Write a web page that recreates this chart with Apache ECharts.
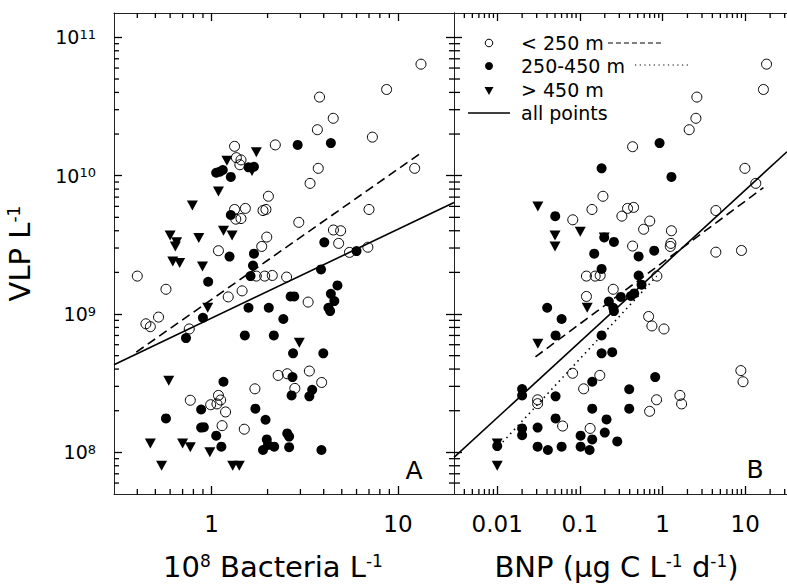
<!DOCTYPE html>
<html><head><meta charset="utf-8">
<script src="https://cdn.jsdelivr.net/npm/echarts@6/dist/echarts.min.js"></script>
<style>html,body{margin:0;padding:0;background:#fff}#c{width:787px;height:586px}</style>
</head><body><div id="c"></div><script>
// ---------- tick values ----------
const yMajorTicks = [1e8, 1e9, 1e10, 1e11];
const yMinorTicks = [6e7,7e7,8e7,9e7, 2e8,3e8,4e8,5e8,6e8,7e8,8e8,9e8, 2e9,3e9,4e9,5e9,6e9,7e9,8e9,9e9, 2e10,3e10,4e10,5e10,6e10,7e10,8e10,9e10];
const xMajorTicksA = [1, 10];
const xMinorTicksA = [0.4,0.5,0.6,0.7,0.8,0.9, 2,3,4,5,6,7,8,9];
const xMajorTicksB = [0.01, 0.1, 1, 10];
const xMinorTicksB = [0.004,0.005,0.006,0.007,0.008,0.009, 0.02,0.03,0.04,0.05,0.06,0.07,0.08,0.09, 0.2,0.3,0.4,0.5,0.6,0.7,0.8,0.9, 2,3,4,5,6,7,8,9, 20,30];
const xRangeA = [0.3, 20];
const xRangeB = [0.003, 32];
const yRange = [5e7, 1.5e11];

// ---------- Panel A: bacteria (1e8 cells/L) vs VLP (per L) ----------
const A_shallow = [
 [13.3,6.4e10],[8.7,4.2e10],[3.8,3.7e10],[4.5,2.6e10],[3.7,2.15e10],[7.3,1.9e10],[2.2,1.67e10],
 [1.33,1.63e10],[1.36,1.35e10],[1.44,1.3e10],[1.42,1.2e10],[12.3,1.13e10],[3.74,1.13e10],[3.38,8.8e9],
 [2.02,7.1e9],[7.0,5.7e9],[1.33,5.7e9],[1.52,5.8e9],[1.89,5.6e9],[1.96,5.7e9],[1.35,4.85e9],[1.44,4.9e9],
 [2.94,4.6e9],[4.51,4.05e9],[4.93,4.0e9],[1.98,3.6e9],[4.81,3.24e9],[1.86,3.08e9],[1.09,2.87e9],
 [6.9,3.04e9],[5.5,2.79e9],[0.40,1.88e9],[1.74,1.88e9],[1.93,1.88e9],[2.12,1.9e9],[2.53,1.85e9],
 [0.57,1.51e9],[1.46,1.47e9],[1.23,1.33e9],[3.3,1.22e9],[0.445,8.5e8],[0.47,8.1e8],[0.52,9.5e8],
 [0.76,7.8e8],[2.28,3.6e8],[2.55,3.7e8],[2.8,2.9e8],[1.71,2.88e8],[0.77,2.38e8],[1.09,2.58e8],
 [0.99,2.21e8],[1.07,2.24e8],[1.12,2.39e8],[1.19,1.96e8],[1.14,1.56e8],[1.50,1.47e8],[3.35,3.87e8],[3.9,3.2e8]
];
const A_mid = [
 [2.9,1.67e10],[4.37,1.72e10],[1.06,1.05e10],[1.11,1.07e10],[1.15,1.1e10],[1.27,9.8e9],[1.58,1.15e10],
 [1.69,1.16e10],[1.27,5.2e9],[1.25,2.6e9],[1.69,2.73e9],[1.67,2.24e9],[1.62,1.88e9],[0.96,1.71e9],
 [4.03,3.3e9],[3.87,2.1e9],[6.0,2.85e9],[4.74,1.61e9],[4.37,1.4e9],[4.56,1.24e9],[4.24,1.11e9],
 [4.33,1.05e9],[1.58,1.11e9],[2.03,1.11e9],[2.43,9.2e8],[2.66,1.34e9],[2.78,1.34e9],[0.90,9.4e8],
 [0.73,6.7e8],[1.51,7.0e8],[2.16,7.0e8],[2.74,5.2e8],[3.98,5.2e8],[2.72,3.5e8],[2.69,2.58e8],
 [3.47,2.83e8],[3.35,2.54e8],[2.55,1.37e8],[2.61,1.3e8],[2.61,1.09e8],[3.89,1.04e8],[1.16,3.24e8],
 [0.88,2.04e8],[1.72,2.07e8],[0.57,1.76e8],[1.95,1.72e8],[0.88,1.51e8],[0.91,1.52e8],[1.06,1.32e8],
 [1.13,1.1e8],[1.98,1.24e8],[1.89,1.04e8],[2.01,1.13e8],[2.17,1.1e8]
];
const A_deep = [
 [1.74,1.48e10],[1.21,1.28e10],[1.65,1.08e10],[1.09,7.7e9],[0.79,6.1e9],[0.60,3.7e9],[0.65,3.3e9],
 [0.64,3.08e9],[0.855,3.55e9],[1.16,4.0e9],[1.29,3.7e9],[0.62,2.4e9],[0.675,2.34e9],[0.895,2.21e9],
 [0.955,1.11e9],[0.59,3.3e8],[2.96,6.2e8],[0.47,1.16e8],[0.70,1.16e8],[0.77,1.09e8],[0.98,1.0e8],
 [0.54,8.0e7],[1.30,8.0e7],[1.41,8.0e7]
];
const A_fitShallow = [[0.395,5.3e8],[13.5,1.48e10]];
const A_fitAll = [[0.3,4.3e8],[20,6.4e9]];

// ---------- Panel B: BNP vs VLP ----------
const B_shallow = [
 [18.1,6.4e10],[16.6,4.2e10],[2.6,3.7e10],[2.53,2.6e10],[2.1,2.15e10],[0.434,1.62e10],[9.9,1.13e10],
 [13.4,8.8e9],[0.19,7.1e9],[4.41,5.6e9],[0.14,5.7e9],[0.377,5.8e9],[0.446,5.9e9],[0.322,5.1e9],
 [0.70,4.7e9],[0.59,4.1e9],[0.082,4.8e9],[1.28,4.0e9],[1.26,3.24e9],[1.24,3.08e9],[0.434,3.1e9],
 [4.41,2.8e9],[9.0,2.88e9],[0.12,1.88e9],[0.153,1.88e9],[0.176,1.9e9],[0.853,1.88e9],[0.253,1.51e9],
 [0.12,1.34e9],[0.678,9.6e8],[0.743,8.2e8],[1.04,7.8e8],[8.85,3.9e8],[9.4,3.24e8],[1.62,2.58e8],
 [1.7,2.24e8],[0.846,2.4e8],[0.697,1.98e8],[0.0816,3.73e8],[0.174,3.6e8],[0.111,2.88e8],
 [0.0308,2.4e8],[0.0308,2.25e8],[0.0618,1.55e8],[0.133,1.49e8]
];
const B_mid = [
 [0.92,1.72e10],[0.183,1.13e10],[1.28,9.8e9],[0.0503,5.1e9],[0.197,3.58e9],[0.258,3.32e9],[0.149,2.73e9],
 [0.792,2.87e9],[0.513,2.61e9],[0.183,2.12e9],[0.513,1.9e9],[0.557,1.63e9],[0.454,1.41e9],[0.414,1.35e9],
 [0.313,1.33e9],[0.224,1.23e9],[0.253,1.11e9],[0.258,1.05e9],[0.0402,1.11e9],[0.0601,9.2e8],
 [0.0508,7.0e8],[0.183,7.0e8],[0.183,5.2e8],[0.246,5.3e8],[0.141,3.24e8],[0.814,3.5e8],[0.395,2.86e8],
 [0.395,2.07e8],[0.141,2.07e8],[0.02,2.87e8],[0.02,2.58e8],[0.0508,2.54e8],[0.0508,1.76e8],[0.21,1.73e8],
 [0.02,1.49e8],[0.02,1.33e8],[0.0308,1.51e8],[0.102,1.32e8],[0.141,1.24e8],[0.2,1.39e8],[0.283,1.2e8],
 [0.01,1.11e8],[0.0308,1.1e8],[0.041,1.04e8],[0.0601,1.1e8],[0.102,1.1e8],[0.131,1.04e8]
];
const B_deep = [
 [0.031,6.0e9],[0.05,3.7e9],[0.05,3.08e9],[0.101,3.94e9],[0.197,3.58e9],[0.1225,1.11e9],
 [0.031,6.1e8],[0.01,1.16e8],[0.01,8.0e7]
];
const B_fitShallow = [[0.029,4.9e8],[16.6,8.2e9]];
const B_fitMid = [[0.0105,1.11e8],[0.85,1.88e9]];
const B_fitAll = [[0.003,9.2e7],[32,1.49e10]];

// ---------- text ----------
const yTitle = '{n|VLP L}{s|-1}';
const xTitleA = '{n|10}{s|8}{n| Bacteria L}{s|-1}';
const xTitleB = '{n|BNP (μg C L}{s|-1}{n| d}{s|-1}{n|)}';
const legendLabels = ['< 250 m', '250-450 m', '> 450 m', 'all points'];
const panelLetters = ['A', 'B'];

const FONT = 'DejaVu Sans';
const INK = '#000';
const LINE = '#222';
const TK = '#000';

function axis(grid, pos, range, majors, opts) {
  opts = opts || {};
  const a = {
    type: 'log', gridIndex: grid, position: pos,
    min: range[0], max: range[1],
    axisLine: { show: true, lineStyle: { color: LINE, width: 1 } },
    axisTick: { show: true, inside: true, length: 8, customValues: majors, lineStyle: { color: TK, width: 1.3 } },
    axisLabel: { show: false },
    splitLine: { show: false }
  };
  if (opts.labels) {
    a.axisLabel = Object.assign({ show: true, customValues: majors, fontFamily: FONT, color: INK }, opts.labels);
  }
  if (opts.name) {
    a.name = opts.name.text;
    a.nameLocation = 'middle';
    a.nameGap = opts.name.gap;
    a.nameTextStyle = {
      fontFamily: FONT, color: INK, padding: opts.name.padding || 0,
      rich: {
        n: { fontSize: 29, fontFamily: FONT, color: INK },
        s: { fontSize: 17, fontFamily: FONT, color: INK, verticalAlign: 'top' }
      }
    };
  }
  return a;
}

const xLabel = { fontSize: 23, margin: 18, formatter: v => String(v) };
const yLabel = {
  margin: 18,
  formatter: v => '{b|10}{s|' + Math.round(Math.log10(v)) + '}',
  rich: {
    b: { fontSize: 19, fontFamily: FONT, color: INK },
    s: { fontSize: 13, fontFamily: FONT, color: INK, verticalAlign: 'top' }
  }
};

const xAxes = [
  axis(0, 'bottom', xRangeA, xMajorTicksA, { labels: xLabel, name: { text: xTitleA, gap: 58, padding: [0, 22, 0, 0] } }),
  axis(0, 'top', xRangeA, xMajorTicksA),
  axis(1, 'bottom', xRangeB, xMajorTicksB, { labels: xLabel, name: { text: xTitleB, gap: 58, padding: [0, 8, 0, 0] } }),
  axis(1, 'top', xRangeB, xMajorTicksB)
];
const yAxes = [
  axis(0, 'left', yRange, yMajorTicks, { labels: yLabel, name: { text: yTitle, gap: 80 } }),
  axis(0, 'right', yRange, yMajorTicks),
  axis(1, 'left', yRange, yMajorTicks)
];

// minor tick marks: thin rect symbols placed on the axes through the library's scales
function tickMarks(data, xi, yi, size, offset) {
  return {
    type: 'scatter', data: data, xAxisIndex: xi, yAxisIndex: yi, silent: true, clip: false, z: 6,
    symbol: 'rect', symbolSize: size, symbolOffset: offset,
    itemStyle: { color: TK, opacity: 1 }
  };
}
function xMinor(vals, xi, yi, len) {
  return [
    tickMarks(vals.map(v => [v, yRange[0]]), xi, yi, [1.3, len], [0, -len / 2]),
    tickMarks(vals.map(v => [v, yRange[1]]), xi, yi, [1.3, len], [0, len / 2])
  ];
}
function yMinor(vals, xi, yi, xr, len, right) {
  const s = [tickMarks(vals.map(v => [xr[0], v]), xi, yi, [len, 1.3], [len / 2, 0])];
  if (right) s.push(tickMarks(vals.map(v => [xr[1], v]), xi, yi, [len, 1.3], [-len / 2, 0]));
  return s;
}

function scatter(data, xi, yi, kind) {
  const s = { type: 'scatter', data: data, xAxisIndex: xi, yAxisIndex: yi, silent: true, z: 3 };
  if (kind === 'open') {
    s.symbol = 'circle'; s.symbolSize = 10;
    s.itemStyle = { color: 'rgba(0,0,0,0)', borderColor: '#000', borderWidth: 1, opacity: 1 };
  } else if (kind === 'filled') {
    s.symbol = 'circle'; s.symbolSize = 10;
    s.itemStyle = { color: '#000', opacity: 1 };
  } else {
    s.symbol = 'triangle'; s.symbolSize = [11, 10]; s.symbolRotate = 180;
    s.itemStyle = { color: '#000', opacity: 1 };
  }
  return s;
}
function fit(data, xi, yi, type) {
  return { type: 'line', data: data, xAxisIndex: xi, yAxisIndex: yi, showSymbol: false, symbol: 'none', silent: true, z: 2,
    lineStyle: { color: '#000', width: 1.6, type: type } };
}

const option = {
  animation: false,
  grid: [
    { left: 114, top: 13, width: 340, height: 487 },
    { left: 454, top: 13, width: 333, height: 487 }
  ],
  xAxis: xAxes,
  yAxis: yAxes,
  series: [].concat(
    xMinor(xMinorTicksA, 0, 0, 5), yMinor(yMinorTicks, 0, 0, xRangeA, 5, true),
    xMinor(xMinorTicksB, 2, 2, 5), yMinor(yMinorTicks, 2, 2, xRangeB, 6, false),
    [
      fit(A_fitShallow, 0, 0, [9, 5]),
      fit(A_fitAll, 0, 0, 'solid'),
      scatter(A_shallow, 0, 0, 'open'),
      scatter(A_mid, 0, 0, 'filled'),
      scatter(A_deep, 0, 0, 'tri'),
      fit(B_fitShallow, 2, 2, [9, 5]),
      fit(B_fitMid, 2, 2, [1.5, 4]),
      fit(B_fitAll, 2, 2, 'solid'),
      scatter(B_shallow, 2, 2, 'open'),
      scatter(B_mid, 2, 2, 'filled'),
      scatter(B_deep, 2, 2, 'tri')
    ]
  ),
  graphic: [
    { type: 'circle', shape: { cx: 489, cy: 43, r: 3.8 }, style: { fill: 'none', stroke: '#000', lineWidth: 1 } },
    { type: 'text', x: 521, y: 43, style: { text: legendLabels[0], font: '19px "DejaVu Sans"', fill: INK, verticalAlign: 'middle' } },
    { type: 'line', shape: { x1: 608, y1: 43, x2: 663, y2: 43 }, style: { stroke: '#000', lineWidth: 1, lineDash: [5, 3] } },
    { type: 'circle', shape: { cx: 489, cy: 66, r: 4 }, style: { fill: '#000' } },
    { type: 'text', x: 521, y: 66, style: { text: legendLabels[1], font: '19px "DejaVu Sans"', fill: INK, verticalAlign: 'middle' } },
    { type: 'line', shape: { x1: 635, y1: 65, x2: 690, y2: 65 }, style: { stroke: '#000', lineWidth: 1.2, lineDash: [1.2, 3.5] } },
    { type: 'polygon', shape: { points: [[484.5, 87], [493.5, 87], [489, 95]] }, style: { fill: '#000' } },
    { type: 'text', x: 521, y: 90, style: { text: legendLabels[2], font: '19px "DejaVu Sans"', fill: INK, verticalAlign: 'middle' } },
    { type: 'line', shape: { x1: 468, y1: 113, x2: 510, y2: 113 }, style: { stroke: '#000', lineWidth: 1.5 } },
    { type: 'text', x: 521, y: 113, style: { text: legendLabels[3], font: '19px "DejaVu Sans"', fill: INK, verticalAlign: 'middle' } },
    { type: 'text', x: 414, y: 470, style: { text: panelLetters[0], font: '25px "DejaVu Sans"', fill: INK, align: 'center', verticalAlign: 'middle' } },
    { type: 'text', x: 755, y: 469, style: { text: panelLetters[1], font: '25px "DejaVu Sans"', fill: INK, align: 'center', verticalAlign: 'middle' } }
  ]
};

const chart = echarts.init(document.getElementById('c'), null, { renderer: 'svg' });
chart.setOption(option);
</script></body></html>
